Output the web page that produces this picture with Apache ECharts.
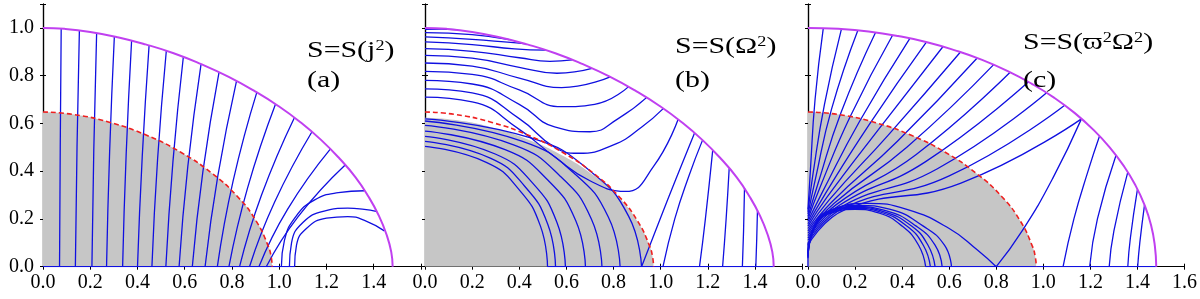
<!DOCTYPE html>
<html><head><meta charset="utf-8">
<script src="https://cdn.jsdelivr.net/npm/echarts@6/dist/echarts.min.js"></script>
<style>html,body{margin:0;padding:0;background:#fff}#c{width:1200px;height:299px}</style>
</head><body><div id="c"></div>
<script>
// ---------- data ----------
const xTickValues = [0,0.2,0.4,0.6,0.8,1.0,1.2,1.4,1.6];
const yTickValues = [0,0.2,0.4,0.6,0.8,1.0];
const panelTitles = ['S=S(j{s|2})', 'S=S(Ω{s|2})', 'S=S(ϖ{s|2}Ω{s|2})'];
const panelLabels = ['(a)', '(b)', '(c)'];

// stellar surfaces (magenta)
const surfaceAB = [[0,1],[0.091,0.996],[0.2,0.983],[0.316,0.961],[0.434,0.931],[0.553,0.894],[0.67,0.848],[0.784,0.796],[0.893,0.737],[0.996,0.673],[1.091,0.604],[1.178,0.53],[1.255,0.453],[1.323,0.374],[1.378,0.293],[1.422,0.213],[1.454,0.135],[1.474,0.062],[1.48,0]];
const surfaceC = [[0,1],[0.129,0.996],[0.257,0.985],[0.383,0.966],[0.506,0.94],[0.625,0.906],[0.74,0.866],[0.849,0.819],[0.951,0.766],[1.047,0.707],[1.134,0.643],[1.212,0.574],[1.282,0.5],[1.341,0.423],[1.391,0.342],[1.43,0.259],[1.458,0.174],[1.474,0.087],[1.48,0]];
// inner boundary (red dashed) and grey region
const innerBoundary = [[0,0.648],[0.131,0.637],[0.284,0.604],[0.439,0.550],[0.585,0.478],[0.715,0.391],[0.823,0.294],[0.903,0.190],[0.953,0.087],[0.966,0.04],[0.97,0]];
const greyB = [[0,0.624],[0.131,0.614],[0.284,0.583],[0.439,0.532],[0.585,0.465],[0.715,0.383],[0.823,0.29],[0.903,0.188],[0.953,0.087],[0.966,0.04],[0.97,0]];

// panel (a) field lines
const linesA = [
 [[0.070,0],[0.073,0.5],[0.077,0.997]],
 [[0.137,0],[0.144,0.5],[0.154,0.989]],
 [[0.207,0],[0.215,0.49],[0.227,0.978]],
 [[0.269,0],[0.282,0.48],[0.302,0.964]],
 [[0.337,0],[0.352,0.47],[0.375,0.946]],
 [[0.400,0],[0.42,0.46],[0.449,0.926]],
 [[0.461,0],[0.485,0.45],[0.522,0.904]],
 [[0.520,0],[0.55,0.44],[0.594,0.878]],
 [[0.576,0],[0.613,0.42],[0.669,0.848]],
 [[0.632,0],[0.677,0.40],[0.745,0.814]],
 [[0.686,0],[0.74,0.38],[0.819,0.777]],
 [[0.738,0],[0.805,0.36],[0.905,0.730]],
 [[0.787,0],[0.866,0.33],[0.984,0.680]],
 [[0.832,0],[0.925,0.30],[1.064,0.624]],
 [[0.874,0],[0.98,0.27],[1.138,0.564]],
 [[0.914,0],[1.035,0.24],[1.216,0.492]],
 [[0.945,0],[1.08,0.21],[1.279,0.426]]
];
const loopsA = [
 [[1.009,0],[1.022,0.11],[1.07,0.21],[1.15,0.28],[1.25,0.31],[1.36,0.318]],
 [[1.043,0],[1.052,0.1],[1.1,0.185],[1.19,0.233],[1.29,0.245],[1.36,0.24],[1.41,0.232]],
 [[1.065,0],[1.073,0.09],[1.115,0.16],[1.2,0.203],[1.29,0.21],[1.37,0.19],[1.445,0.15]],
 [[0,0],[1.065,0]]
];

// panel (b) field lines
const linesB = [
 [[0,0.994],[0.07,0.995],[0.133,0.993]],
 [[0,0.980],[0.2,0.972],[0.358,0.951]],
 [[0,0.962],[0.2,0.952],[0.35,0.94],[0.428,0.933]],
 [[0,0.941],[0.2,0.93],[0.38,0.912],[0.512,0.907]],
 [[0,0.913],[0.2,0.902],[0.4,0.875],[0.53,0.86],[0.625,0.866]],
 [[0,0.885],[0.2,0.873],[0.4,0.835],[0.56,0.81],[0.709,0.83]],
 [[0,0.853],[0.2,0.84],[0.4,0.79],[0.58,0.75],[0.786,0.795]],
 [[0,0.818],[0.2,0.805],[0.4,0.74],[0.58,0.67],[0.72,0.68],[0.863,0.753]],
 [[0,0.780],[0.2,0.765],[0.4,0.68],[0.55,0.585],[0.7,0.565],[0.82,0.62],[0.94,0.708]],
 [[0,0.745],[0.2,0.728],[0.4,0.62],[0.55,0.5],[0.65,0.475],[0.8,0.51],[0.92,0.585],[1.011,0.662]],
 [[0,0.710],[0.2,0.69],[0.4,0.575],[0.55,0.46],[0.7,0.36],[0.85,0.315],[0.97,0.42],[1.074,0.616]],
 [[0,0.619],[0.46,0.536],[0.704,0.398],[0.864,0.212],[0.919,0]],
 [[0,0.610],[0.414,0.525],[0.634,0.39],[0.778,0.208],[0.828,0]],
 [[0,0.592],[0.376,0.51],[0.575,0.378],[0.706,0.2],[0.751,0]],
 [[0,0.568],[0.34,0.49],[0.522,0.362],[0.640,0.192],[0.681,0]],
 [[0,0.546],[0.298,0.472],[0.457,0.35],[0.560,0.185],[0.596,0]],
 [[0,0.525],[0.277,0.455],[0.424,0.336],[0.521,0.178],[0.554,0]],
 [[0,0.504],[0.26,0.437],[0.40,0.322],[0.49,0.17],[0.52,0]],
 [[0.919,0],[0.99,0.18],[1.07,0.38],[1.144,0.56]],
 [[1.01,0],[1.06,0.2],[1.12,0.38],[1.178,0.53]],
 [[1.165,0],[1.19,0.2],[1.221,0.487]],
 [[1.263,0],[1.278,0.2],[1.291,0.412]],
 [[1.347,0],[1.352,0.15],[1.356,0.33]],
 [[1.404,0],[1.408,0.12],[1.411,0.235]],
 [[0.52,0],[1.48,0]]
];

// panel (c) field lines
const linesC = [
 [[0,0.24],[0.01,0.4],[0.03,0.7],[0.065,0.999]],
 [[0,0.23],[0.02,0.38],[0.07,0.68],[0.142,0.995]],
 [[0,0.22],[0.03,0.36],[0.1,0.66],[0.212,0.99]],
 [[0,0.21],[0.04,0.34],[0.14,0.645],[0.287,0.981]],
 [[0,0.2],[0.05,0.33],[0.18,0.63],[0.36,0.97]],
 [[0,0.19],[0.06,0.31],[0.22,0.61],[0.433,0.956]],
 [[0,0.18],[0.07,0.30],[0.26,0.595],[0.503,0.94]],
 [[0,0.17],[0.08,0.29],[0.3,0.575],[0.574,0.922]],
 [[0,0.16],[0.09,0.28],[0.34,0.55],[0.648,0.899]],
 [[0,0.15],[0.1,0.27],[0.38,0.525],[0.719,0.874]],
 [[0,0.14],[0.11,0.265],[0.42,0.5],[0.789,0.846]],
 [[0,0.13],[0.12,0.26],[0.46,0.47],[0.859,0.814]],
 [[0,0.12],[0.13,0.255],[0.5,0.44],[0.937,0.774]],
 [[0,0.11],[0.14,0.25],[0.55,0.41],[1.014,0.728]],
 [[0,0.10],[0.15,0.245],[0.6,0.38],[1.091,0.676]],
 [[0,0.09],[0.16,0.24],[0.65,0.35],[1.162,0.619]],
 [[0,0.06],[0.03,0.17],[0.1,0.225],[0.2,0.24],[0.3,0.225],[0.4,0.17],[0.47,0.09],[0.50,0]],
 [[0,0.055],[0.03,0.17],[0.1,0.228],[0.2,0.244],[0.31,0.228],[0.42,0.17],[0.49,0.09],[0.52,0]],
 [[0,0.05],[0.03,0.17],[0.1,0.231],[0.2,0.248],[0.32,0.231],[0.44,0.17],[0.51,0.09],[0.54,0]],
 [[0,0.045],[0.03,0.17],[0.1,0.234],[0.2,0.252],[0.33,0.235],[0.46,0.17],[0.54,0.09],[0.57,0]],
 [[0,0.04],[0.03,0.17],[0.1,0.237],[0.21,0.257],[0.35,0.24],[0.49,0.17],[0.58,0.09],[0.61,0]],
 [[0,0.035],[0.03,0.18],[0.12,0.245],[0.25,0.265],[0.42,0.24],[0.6,0.16],[0.72,0.07],[0.80,0]],
 [[0.80,0],[0.91,0.15],[1.04,0.37],[1.162,0.619]],
 [[1.084,0],[1.13,0.2],[1.19,0.4],[1.239,0.547]],
 [[1.197,0],[1.23,0.2],[1.309,0.467]],
 [[1.28,0],[1.30,0.15],[1.359,0.396]],
 [[1.359,0],[1.37,0.12],[1.40,0.324]],
 [[1.401,0],[1.41,0.1],[1.43,0.258]],
 [[0.50,0],[1.48,0]],
 [[0,0],[0,0.1]]
];

// ---------- chart ----------
const grids = [
  {left:43, top:4, width:378, height:262.7},
  {left:425, top:4, width:377, height:262.7},
  {left:808, top:4, width:379, height:262.7}
];
const FONT = 'Liberation Serif';
const BLUE = '#1010e0', MAG = '#c040f0', RED = '#ee2020', GREY = '#c6c6c6';
const xAxis = [], yAxis = [], series = [];
const fmt = (v, hideMax, max) => (hideMax && Math.abs(v - max) < 1e-6) ? '' : v.toFixed(1);
grids.forEach((g, i) => {
  const common = {type:'value', min:0, interval:0.2, gridIndex:i,
    axisLine:{show:true, lineStyle:{color:'#000', width:1.2}},
    axisTick:{show:true, inside:true, length:3, lineStyle:{color:'#000'}},
    splitLine:{show:false}};
  xAxis.push(Object.assign({}, common, {max:1.6, position:'bottom',
    axisLabel:{show:true, margin:6, fontFamily:FONT, fontSize:20, color:'#000',
      formatter: v => fmt(v, i < 2, 1.6)}}));
  xAxis.push(Object.assign({}, common, {max:1.6, position:'top', axisLabel:{show:false}}));
  yAxis.push(Object.assign({}, common, {max:1.1, position:'left',
    axisLabel:{show:i === 0, margin:9, fontFamily:FONT, fontSize:20, color:'#000',
      formatter: v => fmt(v, true, 1.1)}}));
  yAxis.push(Object.assign({}, common, {max:1.1, position:'right', axisLabel:{show:false}}));
});
function add(gi, pts, lineStyle, extra) {
  series.push(Object.assign({type:'line', xAxisIndex:gi*2, yAxisIndex:gi*2, data:pts,
    smooth:true, symbol:'none', showSymbol:false, silent:true, animation:false,
    lineStyle:lineStyle}, extra || {}));
}
[0,1,2].forEach(gi => {
  add(gi, gi === 1 ? greyB : innerBoundary, {width:0, opacity:0},
      {areaStyle:{color:GREY, opacity:1}, z:1});
});
linesA.concat(loopsA).forEach(p => add(0, p, {color:BLUE, width:1.3}, {z:3}));
linesB.forEach(p => add(1, p, {color:BLUE, width:1.3}, {z:3}));
linesC.forEach(p => add(2, p, {color:BLUE, width:1.3}, {z:3}));
[0,1,2].forEach(gi => {
  add(gi, innerBoundary, {color:RED, width:1.6, type:[5,3]}, {z:4});
  add(gi, gi === 2 ? surfaceC : surfaceAB, {color:MAG, width:2}, {z:4});
});

const titlePos = [[307,39],[675,35],[1023,31]];
const graphic = [];
panelTitles.forEach((t, i) => {
  graphic.push({type:'text', x:titlePos[i][0], y:titlePos[i][1], scaleX:1.3, z:10,
    style:{text:'{m|' + t.replace(/\{s\|2\}/g, '}{s|2}{m|') + '}', fill:'#000',
      rich:{m:{fontFamily:FONT, fontSize:23, fill:'#000'}, s:{fontFamily:FONT, fontSize:14, verticalAlign:'top', fill:'#000'}}}});
  graphic.push({type:'text', x:titlePos[i][0], y:69, scaleX:1.3, z:10,
    style:{text:panelLabels[i], fontFamily:FONT, fontSize:23, fill:'#000'}});
});

const chart = echarts.init(document.getElementById('c'), null, {renderer:'canvas'});
chart.setOption({animation:false, textStyle:{fontFamily:FONT},
  grid:grids, xAxis:xAxis, yAxis:yAxis, series:series, graphic:graphic});
</script></body></html>
